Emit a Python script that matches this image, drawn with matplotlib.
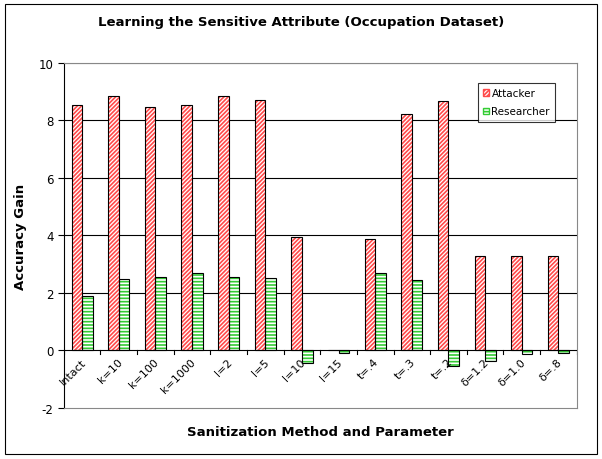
import numpy as np
import matplotlib.pyplot as plt
from matplotlib.patches import Patch, Rectangle

labels = ["Intact", "k=10", "k=100", "k=1000", "l=2", "l=5", "l=10", "l=15",
          "t=.4", "t=.3", "t=.2", "δ=1.2", "δ=1.0", "δ=.8"]
attacker = [8.54, 8.85, 8.47, 8.54, 8.85, 8.71, 3.94, 0.0, 3.87, 8.22, 8.68, 3.28, 3.28, 3.28]
researcher = [1.88, 2.47, 2.54, 2.68, 2.56, 2.51, -0.45, -0.1, 2.68, 2.44, -0.55, -0.35, -0.12, -0.08]

plt.rcParams['font.family'] = 'DejaVu Sans'
plt.rcParams['hatch.linewidth'] = 1.2
plt.rcParams['axes.unicode_minus'] = False

fig = plt.figure(figsize=(6.02, 4.60), dpi=100)
ax = fig.add_axes([0.106, 0.111, 0.852, 0.75])
fig.patches.append(Rectangle((0.008, 0.011), 0.984, 0.978, transform=fig.transFigure,
                             fill=False, edgecolor='black', linewidth=0.8))

x = np.arange(len(labels))
w = 0.29
red = '#FF4A4A'
green = '#33CC33'

ax.bar(x - w / 2, attacker, w, facecolor='white', edgecolor=red, hatch='////////', linewidth=0, zorder=3)
ax.bar(x - w / 2, attacker, w, fill=False, edgecolor='black', linewidth=0.8, zorder=4)
ax.bar(x + w / 2, researcher, w, facecolor='white', edgecolor=green, hatch='-----', linewidth=0, zorder=3)
ax.bar(x + w / 2, researcher, w, fill=False, edgecolor='black', linewidth=0.8, zorder=4)

ax.set_xlim(-0.5, len(labels) - 0.5)
ax.set_ylim(-2, 10)
ax.set_yticks([-2, 0, 2, 4, 6, 8, 10])
for v in [2, 4, 6, 8]:
    ax.axhline(v, color='black', linewidth=0.8, zorder=1)
ax.axhline(10, color='#888888', linewidth=0.8, zorder=1)
ax.axhline(0, color='black', linewidth=0.8, zorder=5)

# category ticks on the zero line
for b in np.arange(-0.5, len(labels), 1.0):
    ax.plot([b, b], [0, -0.12], color='black', linewidth=0.8, zorder=5)
for xi, lab in zip(x, labels):
    ax.text(xi + 0.15, -0.2, lab, rotation=45, ha='right', va='top', fontsize=8)

ax.set_xticks([])
ax.tick_params(axis='y', labelsize=8.5, length=4, direction='out')
for s in ['top', 'right', 'bottom']:
    ax.spines[s].set_color('#888888')
ax.spines['left'].set_color('black')

ax.set_ylabel("Accuracy Gain", fontweight='bold', fontsize=9.5, labelpad=8)
ax.set_xlabel("Sanitization Method and Parameter", fontweight='bold', fontsize=9.5, labelpad=12)
fig.text(0.5, 0.952, "Learning the Sensitive Attribute (Occupation Dataset)",
         ha='center', va='center', fontweight='bold', fontsize=9.5)

handles = [Patch(facecolor='white', edgecolor=red, hatch='////////', label='Attacker'),
           Patch(facecolor='white', edgecolor=green, hatch='-----', label='Researcher')]
leg = ax.legend(handles=handles, loc='upper right', bbox_to_anchor=(0.958, 0.942), fontsize=7.5,
                frameon=True, fancybox=False, edgecolor='black', handlelength=0.6,
                handleheight=0.6, handletextpad=0.2, borderpad=0.5, labelspacing=0.8,
                borderaxespad=0)
leg.get_frame().set_linewidth(0.8)
leg.set_zorder(6)

fig.savefig("out.png", dpi=100)
